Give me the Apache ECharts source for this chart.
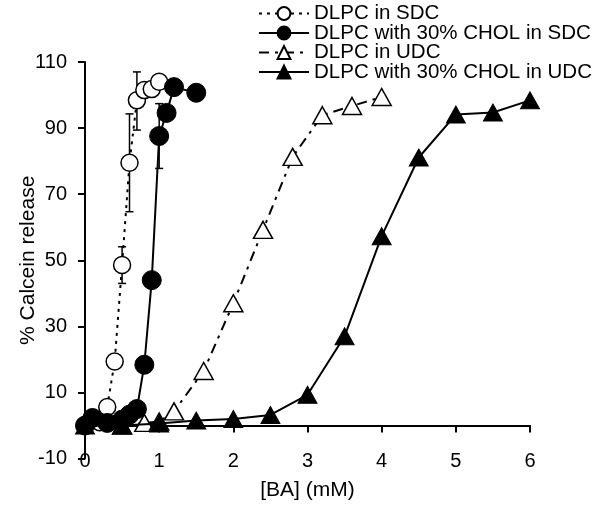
<!DOCTYPE html>
<html>
<head>
<meta charset="utf-8">
<script src="https://cdn.jsdelivr.net/npm/echarts@6/dist/echarts.min.js"></script>
<style>html,body{margin:0;padding:0;background:#fff}#c{width:600px;height:510px}</style>
</head>
<body>
<div id="c"></div>
<script>
const seriesNames = ['DLPC in SDC', 'DLPC with 30% CHOL in SDC', 'DLPC in UDC', 'DLPC with 30% CHOL in UDC'];

const xSDC = [0, 0.2, 0.3, 0.4, 0.5, 0.6, 0.7, 0.8, 0.9, 1.0];
const ySDC = [0, 1, 5.6, 19.4, 48.6, 79.5, 98.4, 101.5, 101.8, 104];

const xSDCchol = [0, 0.1, 0.3, 0.5, 0.6, 0.7, 0.8, 0.9, 1.0, 1.1, 1.2, 1.5];
const ySDCchol = [0, 2.3, 0.8, 1.8, 3.3, 5, 18.4, 44, 87.6, 94.6, 102.4, 100.7];

const xUDC = [0.5, 0.8, 1.0, 1.2, 1.6, 2.0, 2.4, 2.8, 3.2, 3.6, 4.0];
const yUDC = [0, 0.8, 1.2, 4.3, 16.5, 37, 59.2, 81.3, 93.9, 96.7, 99.4];

const xUDCchol = [0, 0.5, 1.0, 1.5, 2.0, 2.5, 3.0, 3.5, 4.0, 4.5, 5.0, 5.5, 6.0];
const yUDCchol = [0, 0, 0.6, 1.5, 2, 3.2, 9.3, 27, 57.3, 81.1, 94.1, 94.7, 98.4];

// error bars: [x, low, high]
const errSDC = [[0.5, 43, 54.1], [0.6, 64.7, 94.3], [0.7, 89.4, 107]];
const errSDCchol = [[1.0, 77.8, 97.4]];

const xTicks = {min: 0, max: 6, interval: 1};
const yTicks = {min: -10, max: 110, interval: 20};

function pairs(xs, ys) { return xs.map((x, i) => [x, ys[i]]); }

const font = 'Liberation Sans, Arial, Helvetica, sans-serif';

function errRender(params, api) {
  const x = api.value(0), lo = api.value(1), hi = api.value(2);
  const p1 = api.coord([x, lo]);
  const p2 = api.coord([x, hi]);
  const cap = 4;
  const st = {stroke: '#000', lineWidth: 1.5};
  return {
    type: 'group',
    children: [
      {type: 'line', shape: {x1: p1[0], y1: p1[1], x2: p2[0], y2: p2[1]}, style: st},
      {type: 'line', shape: {x1: p1[0] - cap, y1: p1[1], x2: p1[0] + cap, y2: p1[1]}, style: st},
      {type: 'line', shape: {x1: p2[0] - cap, y1: p2[1], x2: p2[0] + cap, y2: p2[1]}, style: st}
    ]
  };
}

const chart = echarts.init(document.getElementById('c'), null, {renderer: 'canvas'});
chart.setOption({
  animation: false,
  backgroundColor: '#fff',
  textStyle: {fontFamily: font},
  grid: {left: 85, right: 70, top: 62, bottom: 51.4, containLabel: false, outerBoundsMode: 'none'},
  legend: {
    data: seriesNames,
    orient: 'vertical',
    left: 253,
    top: -2,
    itemWidth: 50,
    itemHeight: 16,
    itemGap: -1.5,
    textStyle: {fontSize: 20.5, color: '#000', fontFamily: font},
    selectedMode: false
  },
  xAxis: {
    type: 'value',
    min: xTicks.min, max: xTicks.max, interval: xTicks.interval,
    name: '[BA] (mM)',
    nameLocation: 'middle',
    nameGap: 21,
    nameMoveOverlap: false,
    nameTextStyle: {fontSize: 21, color: '#000', fontFamily: font},
    axisLine: {onZero: true, lineStyle: {color: '#000', width: 2}},
    axisTick: {show: true, length: 7, lineStyle: {color: '#000', width: 2}},
    axisLabel: {fontSize: 20, color: '#000', margin: -7, fontFamily: font},
    splitLine: {show: false}
  },
  yAxis: {
    type: 'value',
    min: yTicks.min, max: yTicks.max, interval: yTicks.interval,
    name: '% Calcein release',
    nameLocation: 'middle',
    nameGap: 46,
    nameMoveOverlap: false,
    nameTextStyle: {fontSize: 21, color: '#000', fontFamily: font},
    axisLine: {show: true, onZero: false, lineStyle: {color: '#000', width: 2}},
    axisTick: {show: true, length: 7, lineStyle: {color: '#000', width: 2}},
    axisLabel: {fontSize: 20, color: '#000', margin: 18, fontFamily: font},
    splitLine: {show: false}
  },
  series: [
    {
      type: 'custom', name: 'errSDC', renderItem: errRender, data: errSDC, z: 1, silent: true,
      encode: {x: 0, y: [1, 2]}
    },
    {
      type: 'custom', name: 'errSDCchol', renderItem: errRender, data: errSDCchol, z: 1, silent: true,
      encode: {x: 0, y: [1, 2]}
    },
    {
      name: seriesNames[0], type: 'line', data: pairs(xSDC, ySDC),
      symbol: 'circle', symbolSize: 17, showAllSymbol: true,
      lineStyle: {color: '#000', width: 2, type: [3, 5]},
      itemStyle: {color: '#fff', borderColor: '#000', borderWidth: 1.5},
      z: 2
    },
    {
      name: seriesNames[1], type: 'line', data: pairs(xSDCchol, ySDCchol),
      symbol: 'circle', symbolSize: 19, showAllSymbol: true,
      lineStyle: {color: '#000', width: 2, type: 'solid'},
      itemStyle: {color: '#000', borderColor: '#000', borderWidth: 1},
      z: 3
    },
    {
      name: seriesNames[2], type: 'line', data: pairs(xUDC, yUDC),
      symbol: 'triangle', symbolSize: [19, 17], showAllSymbol: true,
      lineStyle: {color: '#000', width: 2, type: [10, 6, 3, 6]},
      itemStyle: {color: '#fff', borderColor: '#000', borderWidth: 1.5},
      z: 4
    },
    {
      name: seriesNames[3], type: 'line', data: pairs(xUDCchol, yUDCchol),
      symbol: 'triangle', symbolSize: [19, 17], showAllSymbol: true,
      lineStyle: {color: '#000', width: 2, type: 'solid'},
      itemStyle: {color: '#000', borderColor: '#000', borderWidth: 1},
      z: 5
    }
  ]
});
</script>
</body>
</html>
